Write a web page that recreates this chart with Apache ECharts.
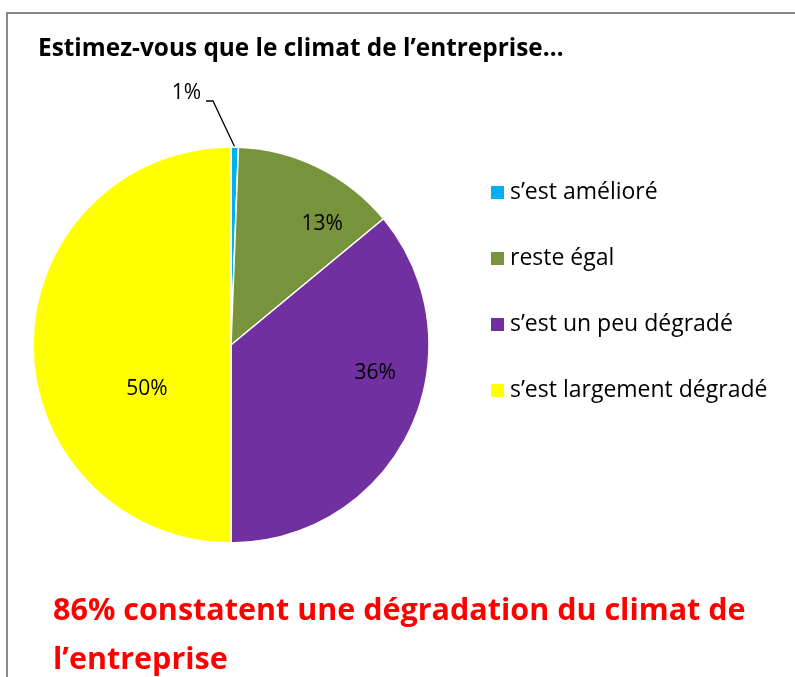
<!DOCTYPE html>
<html><head><meta charset="utf-8">
<script src="https://cdn.jsdelivr.net/npm/echarts@6/dist/echarts.min.js"></script>
<style>html,body{margin:0;padding:0;background:#fff}#c{width:795px;height:677px}</style>
</head><body><div id="c"></div>
<script>
const categories = ["s’est amélioré", "reste égal", "s’est un peu dégradé", "s’est largement dégradé"];
const values = [0.6, 13.4, 36, 50];
const colors = ["#00B0F0", "#77933C", "#7030A0", "#FFFF00"];
const titleText = "Estimez-vous que le climat de l’entreprise…";
const noteText = "86% constatent une dégradation du climat de\nl’entreprise";

const FONT = "Open Sans";
const labelOffsets = [null, [46, -30], [52, -15], [18, 44]];

const data = categories.map((name, i) => {
  const item = { name: name, value: values[i], itemStyle: { color: colors[i] } };
  if (i === 0) {
    item.label = { position: 'outside' };
    item.labelLine = { show: true, length: 40, length2: 8, lineStyle: { color: '#000', width: 1.3 } };
  } else {
    item.label = { position: 'inside', offset: labelOffsets[i] };
    item.labelLine = { show: false };
  }
  return item;
});

const chart = echarts.init(document.getElementById('c'), null, { renderer: 'canvas' });
chart.setOption({
  animation: false,
  backgroundColor: '#fff',
  graphic: [{
    type: 'rect', shape: { x: 7, y: 13, width: 900, height: 800 },
    style: { fill: 'none', stroke: '#888', lineWidth: 2 }, silent: true, z: -1
  }],
  title: [
    { text: titleText, left: 33, top: 32,
      textStyle: { fontFamily: FONT, fontWeight: 'bold', fontSize: 24.4, color: '#000' } },
    { text: noteText, left: 48, top: 582,
      textStyle: { fontFamily: FONT, fontWeight: 'bold', fontSize: 30.5, color: '#FF0000', lineHeight: 49 } }
  ],
  legend: {
    orient: 'vertical', left: 484, top: 176,
    itemWidth: 15, itemHeight: 15, itemGap: 43, icon: 'rect',
    textStyle: { fontFamily: FONT, fontSize: 23, color: '#000', lineHeight: 23 },
    data: categories
  },
  series: [{
    type: 'pie', center: [231, 345], radius: 198, startAngle: 90, clockwise: true,
    label: { show: true, fontFamily: FONT, fontSize: 21, color: '#000',
      formatter: p => Math.round(p.value) + '%' },
    itemStyle: { borderColor: '#fff', borderWidth: 1.5 },
    labelLayout: function (params) {
      if (params.dataIndex === 0) {
        const start = params.labelLinePoints[0];
        const lx = 201, ly = 93;
        return { x: lx, y: ly, align: 'right', verticalAlign: 'middle',
          labelLinePoints: [start, [lx + 12, ly + 8], [lx + 5, ly + 8]] };
      }
    },
    data: data
  }]
});
</script></body></html>
